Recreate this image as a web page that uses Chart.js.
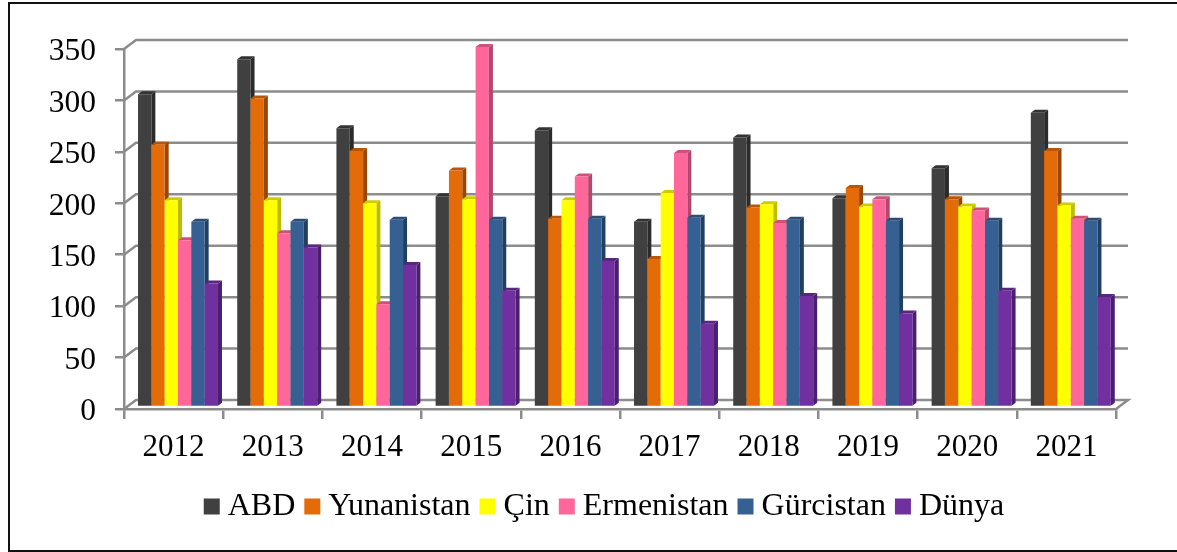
<!DOCTYPE html>
<html>
<head>
<meta charset="utf-8">
<style>
html,body{margin:0;padding:0;background:#fff;overflow:hidden}
#frame{position:absolute;left:8px;top:2px;width:1169px;height:550px;box-sizing:border-box;border-left:2px solid #111;border-top:2px solid #111;border-bottom:2px solid #111}
canvas{position:absolute;left:0;top:0}
</style>
</head>
<body>
<div id="frame"></div>
<canvas id="c" width="1177" height="552"></canvas>
<script src="https://cdn.jsdelivr.net/npm/chart.js@4/dist/chart.umd.min.js"></script>
<script>
const categories = ['2012','2013','2014','2015','2016','2017','2018','2019','2020','2021'];
const seriesNames = ['ABD','Yunanistan','Çin','Ermenistan','Gürcistan','Dünya'];
const abd        = [304,338,271,205,269,180,262,203,232,286];
const yunanistan = [255,300,249,230,183,144,194,213,202,249];
const cin        = [201,201,198,202,201,208,197,195,195,196];
const ermenistan = [162,169,100,350,224,247,179,202,191,183];
const gurcistan  = [180,180,182,182,183,184,182,181,181,181];
const dunya      = [120,155,138,113,142, 81,108, 91,113,107];
const seriesValues = [abd,yunanistan,cin,ermenistan,gurcistan,dunya];
const frontColors = ['#404040','#e36c09','#ffff00','#ff6699','#376092','#7030a0'];
const sideColors  = ['#2b2b2b','#974806','#bcbc00','#b3486f','#223f62','#4b1f6e'];
const topColors   = ['#333333','#b85607','#cccc00','#cc5279','#2c4d75','#59267f'];
const GRID = '#8c8c8c';
const WALL_DX = 12, WALL_DY = 9;      // depth of the 3D walls
const BAR_SHIFT_X = 4.4, BAR_SHIFT_Y = -2; // bars stand mid-way into the floor
const BAR_DX = 4, BAR_DY = 3;         // depth of each bar
const LEGEND_SHIFT = 45;

const walls = {
  id: 'walls',
  afterLayout(chart) {
    chart.legend.left += LEGEND_SHIFT;
    chart.legend.right += LEGEND_SHIFT;
  },
  beforeDatasetsDraw(chart) {
    const {ctx, chartArea: a, scales: {y}} = chart;
    ctx.save();
    ctx.strokeStyle = GRID; ctx.lineWidth = 2.5; ctx.lineCap = 'butt'; ctx.lineJoin = 'miter';
    y.ticks.forEach((t, i) => {
      const py = y.getPixelForTick(i);
      ctx.beginPath();
      ctx.moveTo(a.left, py);
      ctx.lineTo(a.left + WALL_DX, py - WALL_DY);
      ctx.lineTo(a.right + WALL_DX, py - WALL_DY);
      if (t.value === 0) ctx.lineTo(a.right, py);
      ctx.stroke();
    });
    ctx.restore();
  }
};
const bars3d = {
  id: 'bars3d',
  beforeDatasetDraw() { return false; },
  afterDatasetsDraw(chart) {
    const ctx = chart.ctx;
    ctx.save();
    ctx.translate(BAR_SHIFT_X, BAR_SHIFT_Y);
    chart.data.datasets.forEach((ds, i) => {
      chart.getDatasetMeta(i).data.forEach(el => {
        const {x, y, base, width} = el.getProps(['x','y','base','width'], true);
        const l = x - width / 2, r = x + width / 2;
        ctx.fillStyle = sideColors[i];
        ctx.beginPath();
        ctx.moveTo(r, y); ctx.lineTo(r + BAR_DX, y - BAR_DY);
        ctx.lineTo(r + BAR_DX, base - BAR_DY); ctx.lineTo(r, base);
        ctx.closePath(); ctx.fill();
        ctx.fillStyle = topColors[i];
        ctx.beginPath();
        ctx.moveTo(l, y); ctx.lineTo(l + BAR_DX, y - BAR_DY);
        ctx.lineTo(r + BAR_DX, y - BAR_DY); ctx.lineTo(r, y);
        ctx.closePath(); ctx.fill();
        el.draw(ctx);
      });
    });
    ctx.restore();
  }
};

const X_FONT = {family: '"Liberation Serif"', size: 31};
const Y_FONT = {family: '"Liberation Serif"', size: 31.5};
const LEGEND_FONT = {family: '"Liberation Serif"', size: 32};
new Chart(document.getElementById('c'), {
  type: 'bar',
  plugins: [walls, bars3d],
  data: {
    labels: categories,
    datasets: seriesNames.map((n, i) => ({
      label: n, data: seriesValues[i],
      backgroundColor: frontColors[i], borderWidth: 0,
      categoryPercentage: 0.806, barPercentage: 1
    }))
  },
  options: {
    responsive: false, animation: false,
    layout: {padding: {left: 10, right: 61, top: 49, bottom: 19.5}},
    plugins: {
      tooltip: {enabled: false},
      legend: {
        position: 'bottom',
        labels: {
          font: LEGEND_FONT, color: '#000', usePointStyle: true, pointStyle: 'rect',
          boxWidth: 0.01, boxHeight: 16, padding: 17
        }
      }
    },
    scales: {
      x: {
        afterFit(s) { s.height = 64.5; },
        grid: {offset: true, drawOnChartArea: false, color: GRID, lineWidth: 2.5, tickLength: 10},
        border: {color: GRID, width: 2.5},
        ticks: {font: X_FONT, color: '#000', padding: 10, maxRotation: 0, autoSkip: false}
      },
      y: {
        min: 0, max: 350,
        afterFit(s) { s.width = 114; },
        grid: {drawOnChartArea: false, color: GRID, lineWidth: 2.5, tickLength: 9},
        border: {color: GRID, width: 2.5},
        ticks: {font: Y_FONT, color: '#000', stepSize: 50, padding: 19, labelOffset: 3}
      }
    }
  }
});
</script>
</body>
</html>
